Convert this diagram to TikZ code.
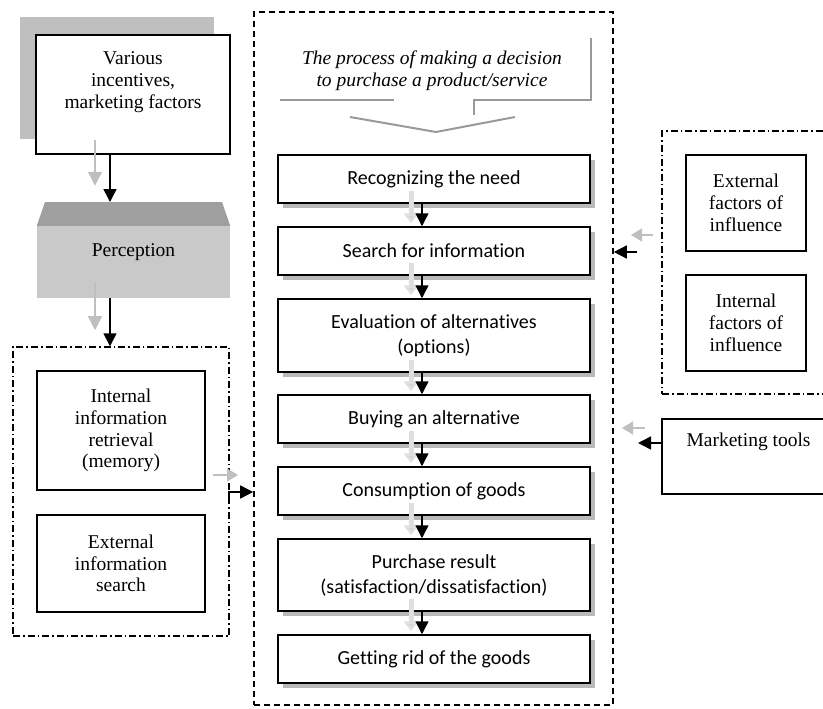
\documentclass[tikz,border=0pt]{standalone}
\usepackage{fontspec}
\setmainfont{Liberation Serif}
\newfontfamily\carlito[RawFeature={-liga}]{Carlito}
\usetikzlibrary{arrows.meta,shadows,calc}
\begin{document}
\begin{tikzpicture}[x=1pt,y=-1pt,
  tnr/.style={font=\fontsize{19.5}{21.7}\selectfont, align=center},
  ttl/.style={font=\itshape\fontsize{19.5}{22}\selectfont, align=center},
  cal/.style={font=\carlito\fontsize{20}{25}\selectfont, align=center},
  sbox/.style={draw, line width=1.5pt, fill=white, inner sep=0pt},
  pbox/.style={sbox, cal, minimum width=312pt, drop shadow={shadow xshift=5pt, shadow yshift=-5pt, fill=gray!55, opacity=1}},
  dashbox/.style={draw, line width=1.6pt, dash pattern=on 6pt off 4pt, inner sep=0pt},
  dotbox/.style={draw, line width=1.4pt, dash pattern=on 7pt off 3pt on 1.5pt off 3pt, inner sep=0pt},
  blk/.style={line width=1.5pt, -{Triangle[length=13pt,width=13pt]}},
  gry/.style={line width=1.5pt, draw=gray!50, -{Triangle[length=14pt,width=14pt,fill=gray!50]}},
  pgry/.style={line width=5pt, draw=gray!25, -{Triangle[length=10pt,width=14pt,fill=gray!35]}},
  callout/.style={draw=gray!80, line width=2pt}
]
\useasboundingbox (0,0) rectangle (823,709);
\clip (0,0) rectangle (823,709);

% ---------- top left ----------
\node[fill=gray!50, inner sep=0pt, minimum width=194pt, minimum height=122pt] (vfback) at (117,78) {};
\node[sbox, minimum width=194pt, minimum height=119pt] (vf) at (133,94.5) {};
\node[tnr] (vftxt) at (133,82) {Various\\incentives,\\marketing factors};

% perception
\node[fill=gray!42, inner sep=0pt, minimum width=193pt, minimum height=72pt] (perc) at (133.5,262) {};
\fill[gray!75] (perc.north west) -- (45,202) -- (222,202) -- (perc.north east) -- cycle;
\coordinate (ptop) at (133.5,202);
\node[tnr] (perctxt) at (133.5,252) {Perception};

% left group
\node[dotbox, minimum width=216pt, minimum height=289pt] (lg) at (121,491.5) {};
\node[sbox, tnr, minimum width=168pt, minimum height=119pt] (iir) at (121,430.5) {Internal\\information\\retrieval\\(memory)};
\node[sbox, tnr, minimum width=168pt, minimum height=97pt] (eis) at (121,563.5) {External\\information\\search};

\coordinate (bx) at (110,0);
\coordinate (gx) at (95,0);
\draw[gry] ($(vf.south -| gx)+(0,-15)$) -- ($(vf.south -| gx)+(0,31)$) coordinate (g1);
\draw[blk] (vf.south -| bx) -- (ptop -| bx);
\draw[gry] ($(perc.south -| gx)+(0,-16)$) -- ($(perc.south -| gx)+(0,32)$) coordinate (g2);
\draw[blk] (perc.south -| bx) -- (lg.north -| bx);

% ---------- main group ----------
\node[dashbox, minimum width=359pt, minimum height=693pt] (main) at (433.5,358.5) {};
\node[ttl] (title) at (432,71) {The process of making a decision\\to purchase a product/service};
\draw[callout] (280,100) -- (394,100);
\draw[callout] (591,38) -- (591,100) -- (474,100) -- (474,115);
\draw[callout] (350,117) -- (436,132) -- (515,117);

\node[pbox, minimum height=48pt] (p1) at (434,179) {Recognizing the need};
\node[pbox, minimum height=48pt] (p2) at (434,251) {Search for information};
\node[pbox, minimum height=73pt] (p3) at (434,335.5) {Evaluation of alternatives\\(options)};
\node[pbox, minimum height=48pt] (p4) at (434,419) {Buying an alternative};
\node[pbox, minimum height=48pt] (p5) at (434,491) {Consumption of goods};
\node[pbox, minimum height=72pt] (p6) at (434,575) {Purchase result\\(satisfaction/dissatisfaction)};
\node[pbox, minimum height=48pt] (p7) at (434,659) {Getting rid of the goods};

\coordinate (ax) at (422,0);
\coordinate (ay) at (411,0);
\foreach \a/\b in {p1/p2,p2/p3,p3/p4,p4/p5,p5/p6,p6/p7}{
  \draw[pgry] ($(\a.south -| ay)+(0,-13)$) -- ($(\b.north -| ay)+(0,-3)$);
  \draw[blk] (\a.south -| ax) -- (\b.north -| ax);
}

% left -> main arrows
\coordinate (lm1) at (213,475);
\coordinate (lm2) at (238,475);
\draw[gry, -{Triangle[length=11pt,width=13pt,fill=gray!50]}] (lm1) -- (lm2);
\coordinate (lmb) at (229,498);
\draw[blk] (lmb) -- (229,492) -- (main.west |- 0,492);

% ---------- right side ----------
\node[dotbox, minimum width=188pt, minimum height=263pt] (rg) at (756,262.5) {};
\node[sbox, tnr, minimum width=120pt, minimum height=96pt] (eff) at (746,203) {External\\factors of\\influence};
\node[sbox, tnr, minimum width=120pt, minimum height=96pt] (iff) at (746,323) {Internal\\factors of\\influence};

\coordinate (r1a) at (653,235);
\coordinate (r1b) at (631,235);
\draw[gry, -{Triangle[length=11pt,width=13pt,fill=gray!50]}] (r1a) -- (r1b);
\coordinate (r2a) at (637,252);
\draw[blk] (r2a) -- (main.east |- r2a);

\node[sbox, minimum width=188pt, minimum height=75pt] (mt) at (756,456.5) {};
\node[tnr, anchor=west] (mttxt) at (683,442) {Marketing tools};
\coordinate (m1a) at (645,428);
\coordinate (m1b) at (622,428);
\draw[gry, -{Triangle[length=11pt,width=13pt,fill=gray!50]}] (m1a) -- (m1b);
\coordinate (m2b) at (638,443);
\draw[blk] (mt.west |- m2b) -- (m2b);
\end{tikzpicture}
\end{document}
